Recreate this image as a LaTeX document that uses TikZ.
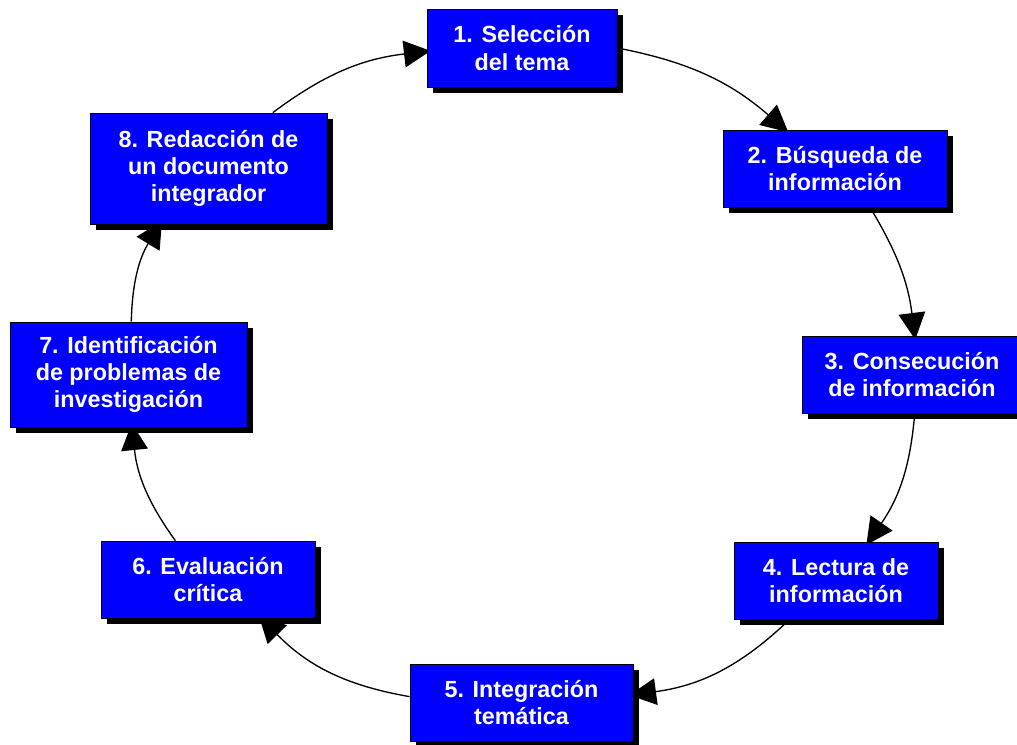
\documentclass[tikz,border=0pt]{standalone}
\usepackage{fontspec}
\setmainfont{Liberation Sans}
\usetikzlibrary{shadows,arrows.meta,backgrounds}
\tikzset{
  stepbox/.style={draw=black, line width=0.6pt, fill=blue, text=white,
    align=center, inner sep=0pt,
    font=\fontsize{17.5}{20.5}\selectfont\bfseries,
    drop shadow={shadow xshift=4.5pt, shadow yshift=-4.5pt, fill=black, opacity=1}},
  flow/.style={line width=1pt, -{Triangle[length=20pt,width=20pt]},
    shorten >=-3pt, bend left=#1},
  flow/.default=15
}
\begin{document}
\begin{tikzpicture}[x=0.75pt,y=0.75pt]
\clip (0,0) rectangle (1017,744);

% the eight steps of the cycle
\node[stepbox, minimum width=142.5pt, minimum height=58.5pt]  (b1) at (522,696)   {1. Selección\\del tema};
\node[stepbox, minimum width=168pt,   minimum height=57.75pt] (b2) at (835,575.5) {2. Búsqueda de\\información};
\node[stepbox, minimum width=165pt,   minimum height=57.75pt] (b3) at (912,369.5) {3. Consecución\\de información};
\node[stepbox, minimum width=153pt,   minimum height=57.75pt] (b4) at (836,163.5) {4. Lectura de\\información};
\node[stepbox, minimum width=167.25pt,minimum height=57.75pt] (b5) at (521.5,41.5) {5. Integración\\temática};
\node[stepbox, minimum width=160.5pt, minimum height=57.75pt] (b6) at (208,164.5) {6. Evaluación\\crítica};
\node[stepbox, minimum width=177.75pt,minimum height=78.75pt] (b7) at (128.5,369.5) {7. Identificación\\de problemas de\\investigación};
\node[stepbox, minimum width=177.75pt,minimum height=83.25pt] (b8) at (208.5,575.5) {8. Redacción de\\un documento\\integrador};

% curved connectors, drawn behind the boxes
\begin{pgfonlayer}{background}
\fill[white] (0,0) rectangle (1017,744);
\draw[flow]     (b1.east) to (b2.142);
\draw[flow=12]  (b2.-48)  to (b3.86);
\draw[flow]     (b3.-86)  to (b4.50);
\draw[flow=18]  (b4.220)  to (b5.4);
\draw[flow=18]  (b5.177)  to (b6.-36);
\draw[flow]     (b6.130)  to (b7.-86);
\draw[flow]     (b7.87)   to (b8.-131);
\draw[flow]     (b8.41)   to (b1.182);
\end{pgfonlayer}
\end{tikzpicture}
\end{document}
